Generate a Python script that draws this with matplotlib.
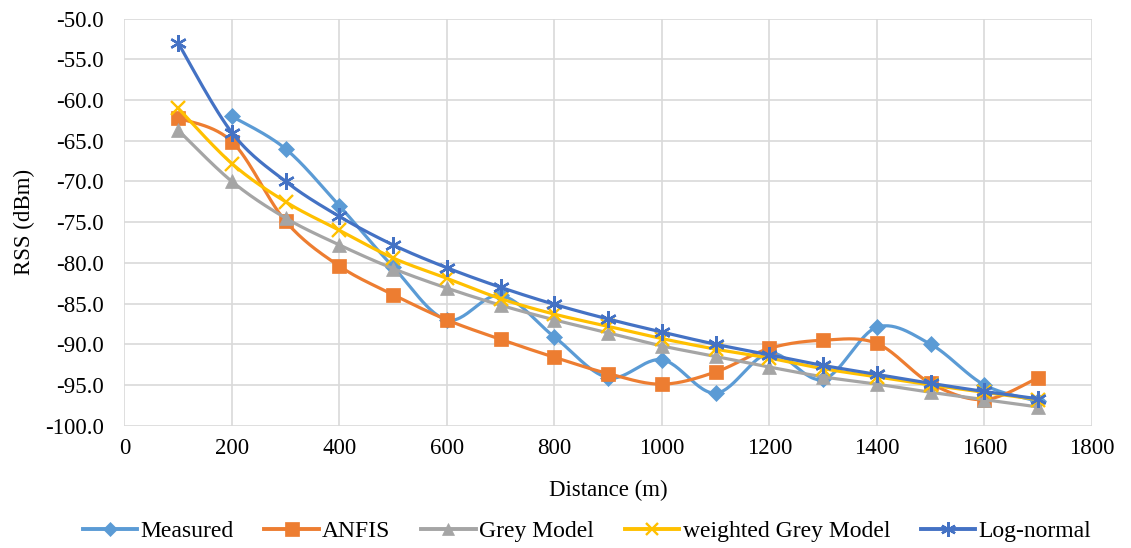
import numpy as np
import matplotlib
matplotlib.use("Agg")
import matplotlib.pyplot as plt
from matplotlib.lines import Line2D

distance = [100, 200, 300, 400, 500, 600, 700, 800, 900, 1000, 1100, 1200, 1300, 1400, 1500, 1600, 1700]
measured = [np.nan, -62.0, -66.0, -73.0, -80.5, -87.0, -84.0, -89.1, -94.1, -91.9, -96.0, -91.1, -94.3, -87.9, -90.0, -95.0, -97.0]
anfis = [-62.2, -65.1, -74.9, -80.4, -83.9, -87.0, -89.4, -91.6, -93.6, -94.9, -93.4, -90.5, -89.5, -89.9, -94.8, -96.8, -94.1]
grey = [-63.7, -70.0, -74.5, -77.8, -80.7, -83.1, -85.2, -87.0, -88.6, -90.2, -91.5, -92.8, -94.0, -94.9, -95.9, -96.8, -97.7]
wgrey = [-61.0, -67.8, -72.5, -76.0, -79.4, -81.9, -84.4, -86.3, -87.8, -89.3, -90.6, -91.7, -93.0, -94.0, -95.0, -95.9, -96.8]
lognormal = [-53.0, -64.0, -70.0, -74.3, -77.8, -80.6, -83.0, -85.1, -86.9, -88.5, -90.0, -91.3, -92.6, -93.7, -94.8, -95.8, -96.7]

series_names = ["Measured", "ANFIS", "Grey Model", "weighted Grey Model", "Log-normal"]
x_ticks = [0, 200, 400, 600, 800, 1000, 1200, 1400, 1600, 1800]
y_ticks = [-100, -95, -90, -85, -80, -75, -70, -65, -60, -55, -50]

colors = ["#5B9BD5", "#ED7D31", "#A5A5A5", "#FFC000", "#4472C4"]
markers = ["D", "s", "^", "x", (6, 2, 0)]
msizes = [8, 10.5, 10, 10, 12]

plt.rcParams['font.family'] = ['Liberation Serif', 'DejaVu Serif']
FS = 16.5


def smooth(xs, ys, n=30):
    """Excel-like smoothed line (Catmull-Rom Bezier) through the points."""
    pts = [(x, y) for x, y in zip(xs, ys) if not np.isnan(y)]
    P = np.array(pts, dtype=float)
    if len(P) < 3:
        return P[:, 0], P[:, 1]
    sx, sy = 107.5 / 200.0, 40.7 / 5.0
    Q = P * np.array([sx, sy])
    out = []
    m = len(Q)
    for i in range(m - 1):
        p0 = Q[i - 1] if i > 0 else Q[i]
        p1 = Q[i]
        p2 = Q[i + 1]
        p3 = Q[i + 2] if i + 2 < m else Q[i + 1]
        c1 = p1 + (p2 - p0) / 6.0
        c2 = p2 - (p3 - p1) / 6.0
        t = np.linspace(0, 1, n)[:, None]
        b = (1 - t) ** 3 * p1 + 3 * (1 - t) ** 2 * t * c1 + 3 * (1 - t) * t ** 2 * c2 + t ** 3 * p2
        if i > 0:
            b = b[1:]
        out.append(b)
    R = np.vstack(out) / np.array([sx, sy])
    return R[:, 0], R[:, 1]


fig = plt.figure(figsize=(11.31, 5.48), dpi=100)
ax = fig.add_axes([0.110, 0.2232, 0.8555, 0.7427])

all_series = [measured, anfis, grey, wgrey, lognormal]
handles = []
for i, (name, ys) in enumerate(zip(series_names, all_series)):
    sxs, sys_ = smooth(distance, ys)
    ax.plot(sxs, sys_, color=colors[i], lw=2.3, zorder=3 + i, solid_capstyle='round')
    mew = 1.7 if markers[i] in ("x", (6, 2, 0)) else 0.5
    ax.plot(distance, ys, linestyle='none', marker=markers[i], ms=msizes[i],
            color=colors[i], mec=colors[i], mew=mew, zorder=3 + i)
    handles.append(Line2D([0], [0], color=colors[i], lw=2.8, marker=markers[i],
                          ms=msizes[i] * 0.9, mec=colors[i], mew=mew))

ax.set_xlim(0, 1800)
ax.set_ylim(-100, -50)
ax.set_xticks(x_ticks)
ax.set_yticks(y_ticks)
ax.set_yticklabels([f"{v:.1f}" for v in y_ticks])
ax.grid(True, color="#D9D9D9", lw=1.2, zorder=0)
ax.set_axisbelow(True)
for s in ax.spines.values():
    s.set_visible(False)
ax.tick_params(length=0, labelsize=FS, colors="#000000")
ax.tick_params(axis='y', pad=15)
ax.tick_params(axis='x', pad=9)
ax.set_xlabel("Distance (m)", fontsize=FS)
ax.set_ylabel("RSS (dBm)", fontsize=FS)
ax.xaxis.set_label_coords(0.5, -0.158)
ax.xaxis.label.set_va('center')
ax.yaxis.set_label_coords(-0.103, 0.5)
ax.yaxis.label.set_va('center')

fig.legend(handles, series_names, loc="center", bbox_to_anchor=(0.519, 0.031),
           ncol=5, frameon=False, fontsize=17, handlelength=2.3, columnspacing=1.3,
           handletextpad=0.15, borderpad=0, borderaxespad=0)

fig.savefig("out.png", dpi=100)
